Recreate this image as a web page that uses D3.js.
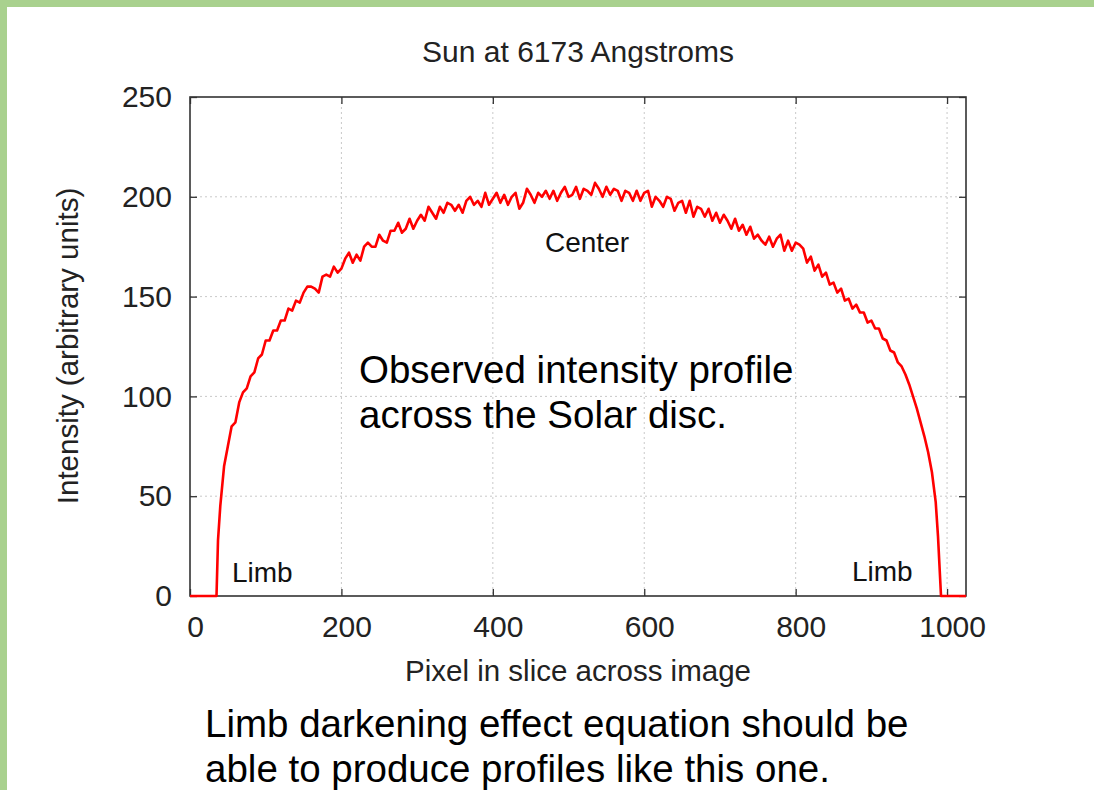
<!DOCTYPE html>
<html>
<head>
<meta charset="utf-8">
<script src="https://cdn.jsdelivr.net/npm/d3@7"></script>
<style>
  html, body { margin: 0; padding: 0; background: #ffffff; }
  svg { display: block; }
  text { font-family: "Liberation Sans", Arial, Helvetica, sans-serif; }
</style>
</head>
<body>
<svg id="chart" width="1094" height="790"></svg>
<script>
// ---- data ----
const titleText = "Sun at 6173 Angstroms";
const xLabelText = "Pixel in slice across image";
const yLabelText = "Intensity (arbitrary units)";
const xTicks = [0, 200, 400, 600, 800, 1000];
const yTicks = [0, 50, 100, 150, 200, 250];
const xDomain = [0, 1025];
const yDomain = [0, 250];

const pixels = [0, 34, 35, 37, 40, 45, 50, 55, 60, 65, 70, 75, 80, 85, 90, 95, 100,
  105, 110, 115, 120, 125, 130, 135, 140, 145, 150, 155, 160, 165, 170, 175, 180, 185, 190, 195, 200,
  205, 210, 215, 220, 225, 230, 235, 240, 245, 250, 255, 260, 265, 270, 275, 280, 285, 290, 295, 300,
  305, 310, 315, 320, 325, 330, 335, 340, 345, 350, 355, 360, 365, 370, 375, 380, 385, 390, 395, 400,
  405, 410, 415, 420, 425, 430, 435, 440, 445, 450, 455, 460, 465, 470, 475, 480, 485, 490, 495, 500,
  505, 510, 515, 520, 525, 530, 535, 540, 545, 550, 555, 560, 565, 570, 575, 580, 585, 590, 595, 600,
  605, 610, 615, 620, 625, 630, 635, 640, 645, 650, 655, 660, 665, 670, 675, 680, 685, 690, 695, 700,
  705, 710, 715, 720, 725, 730, 735, 740, 745, 750, 755, 760, 765, 770, 775, 780, 785, 790, 795, 800,
  805, 810, 815, 820, 825, 830, 835, 840, 845, 850, 855, 860, 865, 870, 875, 880, 885, 890, 895, 900,
  905, 910, 915, 920, 925, 930, 935, 940, 945, 950, 955, 960, 965, 970, 975, 980, 985, 988, 990, 992, 1025];

const intensity = [0, 0, 0, 28, 45, 65, 75, 85, 87, 97, 102, 104, 110, 112, 119, 121, 128,
  128, 133, 133, 138, 138, 144, 143, 148, 147, 152, 155, 155, 154, 152, 160, 161, 160, 165, 162, 164,
  169, 172, 167, 171, 168, 175, 177, 175, 175, 181, 178, 177, 183, 183, 187, 182, 184, 189, 184, 188,
  191, 188, 195, 192, 189, 195, 192, 197, 196, 193, 196, 192, 198, 200, 196, 198, 195, 202, 196, 199,
  202, 197, 201, 196, 200, 202, 194, 197, 204, 201, 197, 202, 200, 203, 199, 203, 198, 202, 205, 200,
  201, 205, 199, 204, 203, 201, 207, 204, 200, 205, 201, 204, 203, 198, 203, 202, 198, 203, 198, 202,
  203, 195, 200, 198, 195, 200, 199, 193, 197, 198, 192, 198, 190, 195, 194, 190, 194, 188, 192, 187,
  191, 188, 184, 189, 183, 186, 181, 185, 179, 181, 178, 176, 180, 175, 179, 181, 173, 178, 173, 177,
  176, 174, 167, 170, 163, 166, 160, 162, 156, 157, 152, 154, 148, 149, 144, 146, 142, 142, 137, 138,
  134, 134, 129, 128, 123, 122, 117, 115, 111, 106, 100, 94, 87, 80, 72, 62, 47, 30, 15, 0, 0];

// ---- drawing ----
const svg = d3.select("#chart");
const W = 1094, H = 790;
const plot = { left: 190, right: 966, top: 97, bottom: 596 };

svg.append("rect").attr("width", W).attr("height", H).attr("fill", "#ffffff");
// slide border (green)
svg.append("rect").attr("x", 0).attr("y", 0).attr("width", W).attr("height", 7).attr("fill", "#a9d18e");
svg.append("rect").attr("x", 0).attr("y", 0).attr("width", 7).attr("height", H).attr("fill", "#a9d18e");

const x = d3.scaleLinear().domain(xDomain).range([plot.left, plot.right]);
const y = d3.scaleLinear().domain(yDomain).range([plot.bottom, plot.top]);

// grid
const grid = svg.append("g").attr("stroke", "#c9c9c9").attr("stroke-width", 1).attr("stroke-dasharray", "2,3");
grid.selectAll("line.gx").data(xTicks.filter(t => t > 0)).join("line")
  .attr("x1", d => x(d)).attr("x2", d => x(d)).attr("y1", plot.top).attr("y2", plot.bottom);
grid.selectAll("line.gy").data(yTicks.filter(t => t > 0 && t < 250)).join("line")
  .attr("x1", plot.left).attr("x2", plot.right).attr("y1", d => y(d)).attr("y2", d => y(d));

// axes (gnuplot style: inward ticks, mirrored)
const tickLen = 7;
const axisStyle = g => {
  g.select(".domain").remove();
  g.selectAll(".tick line").attr("stroke", "#333").attr("stroke-width", 1.3);
  g.selectAll(".tick text").attr("fill", "#222").style("font-size", "30px");
};
svg.append("g").attr("transform", `translate(0,${plot.bottom})`)
  .call(d3.axisBottom(x).tickValues(xTicks).tickSize(-tickLen).tickPadding(20).tickFormat(d3.format("d")))
  .call(axisStyle)
  .call(g => g.selectAll(".tick text").attr("dx", 5));
svg.append("g").attr("transform", `translate(0,${plot.top})`)
  .call(d3.axisTop(x).tickValues(xTicks).tickSize(-tickLen).tickFormat(""))
  .call(axisStyle);
svg.append("g").attr("transform", `translate(${plot.left},0)`)
  .call(d3.axisLeft(y).tickValues(yTicks).tickSize(-tickLen).tickPadding(18).tickFormat(d3.format("d")))
  .call(axisStyle);
svg.append("g").attr("transform", `translate(${plot.right},0)`)
  .call(d3.axisRight(y).tickValues(yTicks).tickSize(-tickLen).tickFormat(""))
  .call(axisStyle);

// frame
svg.append("rect").attr("x", plot.left).attr("y", plot.top)
  .attr("width", plot.right - plot.left).attr("height", plot.bottom - plot.top)
  .attr("fill", "none").attr("stroke", "#333").attr("stroke-width", 1.6);

// data line
const data = pixels.map((p, i) => ({ p, v: intensity[i] }));
svg.append("path").datum(data)
  .attr("fill", "none").attr("stroke", "#ff0000").attr("stroke-width", 2.6)
  .attr("stroke-linejoin", "round")
  .attr("d", d3.line().x(d => x(d.p)).y(d => y(d.v)));

// titles
svg.append("text").attr("x", 578).attr("y", 62).attr("text-anchor", "middle")
  .attr("fill", "#222").style("font-size", "30px").text(titleText);
svg.append("text").attr("x", 578).attr("y", 681).attr("text-anchor", "middle")
  .attr("fill", "#222").style("font-size", "29.5px").text(xLabelText);
svg.append("text").attr("transform", "translate(78,346) rotate(-90)").attr("text-anchor", "middle")
  .attr("fill", "#222").style("font-size", "29.5px").text(yLabelText);

// annotations
svg.append("text").attr("x", 232).attr("y", 582).attr("fill", "#111").style("font-size", "28px").text("Limb");
svg.append("text").attr("x", 852).attr("y", 581).attr("fill", "#111").style("font-size", "28px").text("Limb");
svg.append("text").attr("x", 545).attr("y", 252).attr("fill", "#111").style("font-size", "28px").text("Center");
svg.append("text").attr("x", 359).attr("y", 383).attr("fill", "#000").style("font-size", "38.5px").text("Observed intensity profile");
svg.append("text").attr("x", 359).attr("y", 428).attr("fill", "#000").style("font-size", "38.5px").text("across the Solar disc.");

// slide caption
svg.append("text").attr("x", 205).attr("y", 737).attr("fill", "#000").style("font-size", "38.5px").text("Limb darkening effect equation should be");
svg.append("text").attr("x", 205).attr("y", 782).attr("fill", "#000").style("font-size", "38.5px").text("able to produce profiles like this one.");
</script>
</body>
</html>
